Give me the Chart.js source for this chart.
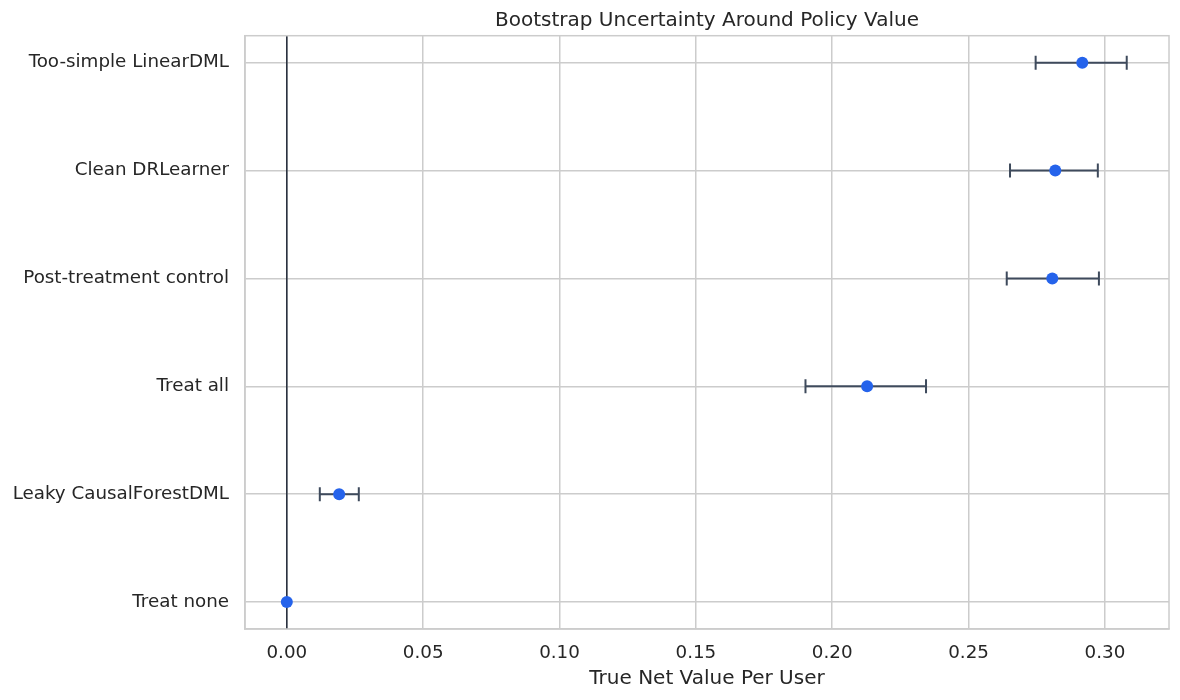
<!DOCTYPE html>
<html>
<head>
<meta charset="utf-8">
<script src="https://cdn.jsdelivr.net/npm/chart.js@4.4.1/dist/chart.umd.min.js"></script>
<style>
  html, body { margin: 0; padding: 0; background: #fff; }
  #wrap { width: 1180px; height: 700px; }
</style>
</head>
<body>
<div id="wrap"><canvas id="policyChart" width="1180" height="700"></canvas></div>
<script>
// Policies, bottom to top (index = y position)
const policies = ["Treat none", "Leaky CausalForestDML", "Treat all", "Post-treatment control", "Clean DRLearner", "Too-simple LinearDML"];
const policyValue = [0.0, 0.0192, 0.2128, 0.2807, 0.2818, 0.2917];
const ciLow = [null, 0.0121, 0.1902, 0.2640, 0.2652, 0.2746];
const ciHigh = [null, 0.0264, 0.2344, 0.2978, 0.2974, 0.3080];
const xTicks = [0.0, 0.05, 0.10, 0.15, 0.20, 0.25, 0.30];

const textColor = "#262626";
const gridColor = "#cccccc";
const font = "'DejaVu Sans', sans-serif";

const pointData = policies.map((p, i) => ({ x: policyValue[i], y: i }));

const errorSets = policies
  .map((p, i) => {
    if (ciLow[i] === null) return null;
    return {
      type: "line",
      data: [{ x: ciLow[i], y: i }, { x: ciHigh[i], y: i }],
      borderColor: "#3e4a5c",
      borderWidth: 2,
      pointStyle: "line",
      pointRotation: 90,
      pointRadius: 7,
      pointBorderWidth: 2,
      pointBorderColor: "#3e4a5c",
      fill: false,
    };
  })
  .filter((d) => d);

// light frame around the plot area
const frame = {
  id: "frame",
  afterDraw(chart) {
    const { ctx, chartArea: a } = chart;
    ctx.save();
    ctx.strokeStyle = gridColor;
    ctx.lineWidth = 1.5;
    ctx.strokeRect(a.left, a.top, a.right - a.left, a.bottom - a.top);
    ctx.restore();
  },
};

new Chart(document.getElementById("policyChart"), {
  type: "scatter",
  data: {
    datasets: [
      {
        data: pointData,
        backgroundColor: "#2563eb",
        borderColor: "#2563eb",
        pointRadius: 6,
        pointBorderWidth: 0,
      },
      ...errorSets,
      {
        type: "line",
        data: [{ x: 0, y: -0.25 }, { x: 0, y: 5.25 }],
        borderColor: "#2b3240",
        borderWidth: 1.6,
        pointRadius: 0,
      },
    ],
  },
  options: {
    responsive: false,
    animation: false,
    layout: { padding: { left: 0, right: 11, top: 0, bottom: 0 } },
    plugins: {
      legend: { display: false },
      tooltip: { enabled: false },
      title: {
        display: true,
        text: "Bootstrap Uncertainty Around Policy Value",
        color: textColor,
        fullSize: false,
        font: { family: font, size: 20, weight: "normal" },
        padding: { top: 8.7, bottom: 3 },
      },
    },
    scales: {
      x: {
        type: "linear",
        min: -0.01533,
        max: 0.3235,
        afterBuildTicks: (s) => { s.ticks = xTicks.map((v) => ({ value: v })); },
        afterFit: (s) => { s.height = 71; },
        ticks: {
          color: textColor,
          font: { family: font, size: 18.3 },
          padding: 13,
          callback: (v) => Number(v).toFixed(2),
        },
        grid: { color: gridColor, lineWidth: 1.5, drawTicks: false },
        border: { color: gridColor, width: 1.5 },
        title: {
          display: true,
          text: "True Net Value Per User",
          color: textColor,
          font: { family: font, size: 20 },
          padding: { top: 0, bottom: 9 },
        },
      },
      y: {
        type: "linear",
        min: -0.25,
        max: 5.25,
        afterBuildTicks: (s) => { s.ticks = policies.map((p, i) => ({ value: i })); },
        afterFit: (s) => { s.width = 245; },
        ticks: {
          color: textColor,
          font: { family: font, size: 18.3 },
          padding: 16,
          callback: (v) => policies[v],
        },
        grid: { color: gridColor, lineWidth: 1.5, drawTicks: false },
        border: { color: gridColor, width: 1.5 },
      },
    },
  },
  plugins: [frame],
});
</script>
</body>
</html>
